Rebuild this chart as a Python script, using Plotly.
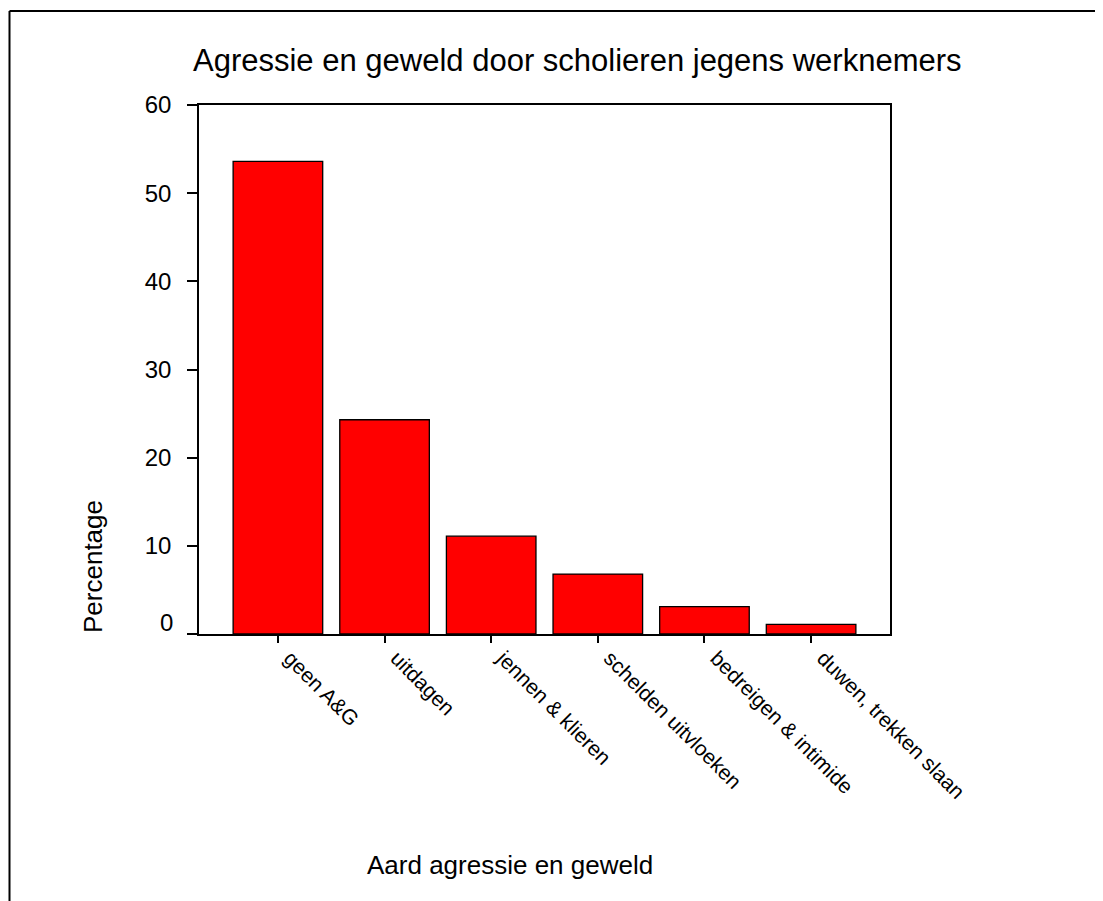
import plotly.graph_objects as go

categories = ["geen A&G", "uitdagen", "jennen & klieren", "schelden uitvloeken",
              "bedreigen & intimide", "duwen, trekken slaan"]
percentages = [53.6, 24.3, 11.1, 6.8, 3.1, 1.1]
y_tick_vals = [0, 10, 20, 30, 40, 50, 60]
y_tick_text = ["", "10", "20", "30", "40", "50", "60"]

FONT = "Liberation Sans, Arial, sans-serif"

fig = go.Figure(go.Bar(
    x=list(range(len(categories))), y=percentages,
    width=0.84,
    marker=dict(color="#FF0000", line=dict(color="black", width=1.3)),
))

# page has an 8px body margin; work in page pixels and subtract it
OFF = 8
W, H = 1103 - OFF, 901 - OFF
L, R, T, B = 199 - OFF, 890 - OFF, 105 - OFF, 634 - OFF

def px(x):
    return (x - OFF - L) / (R - L)

def py(y):
    return (B - (y - OFF)) / (B - T)

fig.update_layout(
    width=W, height=H,
    margin=dict(l=L, r=W - R, t=T, b=H - B),
    paper_bgcolor="white", plot_bgcolor="white",
    showlegend=False,
    font=dict(family=FONT, color="black"),
    xaxis=dict(
        range=[-0.74, 5.74],
        tickvals=list(range(len(categories))), ticktext=categories,
        tickangle=45, ticks="outside", ticklen=7, tickwidth=1.5, tickcolor="black",
        showline=True, linecolor="black", linewidth=1.5, mirror=True,
        showgrid=False, zeroline=False,
        tickfont=dict(size=21, family=FONT),
        ticklabelstandoff=-5,
        ticklabelshift=12,
    ),
    yaxis=dict(
        range=[0, 60],
        tickvals=y_tick_vals, ticktext=y_tick_text,
        ticks="outside", ticklen=10, tickwidth=1.5, tickcolor="black",
        showline=True, linecolor="black", linewidth=1.5, mirror=True,
        showgrid=False, zeroline=False,
        tickfont=dict(size=24, family=FONT),
        ticklabelstandoff=11,
    ),
    shapes=[
        dict(type="line", xref="paper", yref="paper",
             x0=px(9.5), x1=px(1103), y0=py(11), y1=py(11),
             line=dict(color="black", width=2)),
        dict(type="line", xref="paper", yref="paper",
             x0=px(9.5), x1=px(9.5), y0=py(11), y1=py(901),
             line=dict(color="black", width=2)),
    ],
    annotations=[
        dict(text="Agressie en geweld door scholieren jegens werknemers",
             xref="paper", yref="paper", x=px(577), y=py(60),
             xanchor="center", yanchor="middle", showarrow=False,
             font=dict(size=31, family=FONT)),
        dict(text="Percentage", xref="paper", yref="paper", x=px(93), y=py(567),
             xanchor="center", yanchor="middle", textangle=-90, showarrow=False,
             font=dict(size=26, family=FONT)),
        dict(text="Aard agressie en geweld", xref="paper", yref="paper",
             x=px(510), y=py(865), xanchor="center", yanchor="middle",
             showarrow=False, font=dict(size=26, family=FONT)),
        dict(text="0", xref="paper", yref="y", x=0, y=0, xanchor="right",
             yanchor="middle", xshift=-24, yshift=12, showarrow=False,
             font=dict(size=24, family=FONT)),
    ],
)

fig.write_html("out.html")
